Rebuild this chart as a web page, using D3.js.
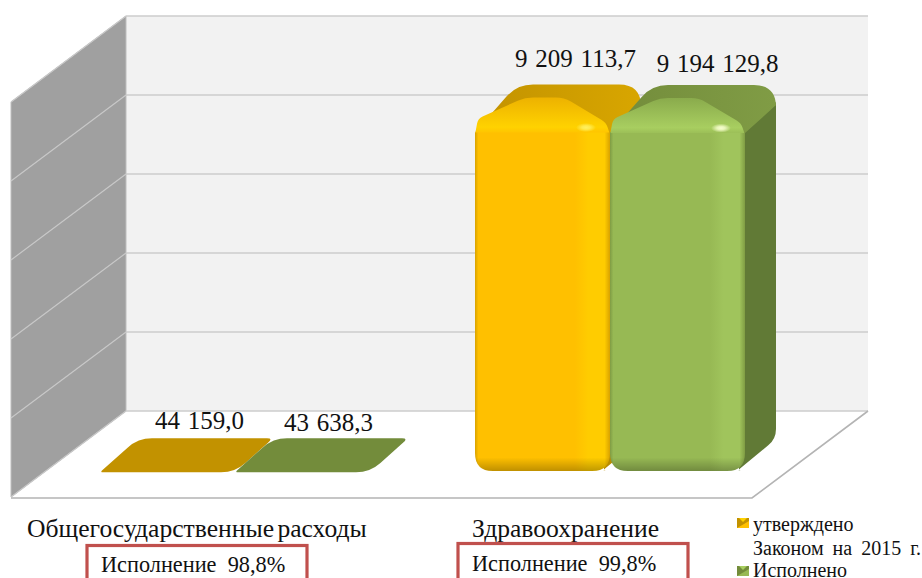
<!DOCTYPE html>
<html>
<head>
<meta charset="utf-8">
<script src="https://cdn.jsdelivr.net/npm/d3@7"></script>
<style>
  html, body { margin: 0; padding: 0; background: #fff; overflow: hidden; }
  text { font-family: "Liberation Serif", serif; fill: #111; }
</style>
</head>
<body>
<svg id="chart" width="922" height="578"></svg>
<script>
// values
let categories = ["Общегосударственные расходы", "Здравоохранение"];
let seriesNames = ["утверждено", "Исполнено"];
let approved = [44159.0, 9209113.7];
let executed = [43638.3, 9194129.8];
let approvedLabels = ["44 159,0", "9 209 113,7"];
let executedLabels = ["43 638,3", "9 194 129,8"];
let executionNotes = ["Исполнение  98,8%", "Исполнение  99,8%"];
let gridTicks = [0, 2000000, 4000000, 6000000, 8000000, 10000000];

let svg = d3.select("#chart");
let defs = svg.append("defs");

// box of the 3d chart
let wallLeft = 126, wallRight = 868, wallTop = 16, wallBottom = 411;
let frontDx = -115, frontDy = 86;

// bars: same value range, measured from the front of the bar
let wallY = d3.scaleLinear().domain([0, 10000000]).range([wallBottom, wallTop]);
let barY = d3.scaleLinear().domain([0, 10000000]).range([474, 88]);
let catX = d3.scaleBand().domain(categories).range([100, 850]);
let seriesX = d3.scaleBand().domain(seriesNames).range([0, 270]);
let depthX = 38, depthY = 34;

let palette = {
    "утверждено": {body: "#FFC000", light: "#FFCC00", edge: "#D8A200", top: "#C29200", topLight: "#D8A600", bevelA: "#EDB200", bevelB: "#FFD200", side: "#B88C00", spot: "#FFF060"},
    "Исполнено": {body: "#97B954", light: "#A0C45C", edge: "#7F9C44", top: "#738C3B", topLight: "#809C45", bevelA: "#8AAB4C", bevelB: "#A8CE60", side: "#617A36", spot: "#F8FFD0"}
};

function makeGradients(name, c, i) {
    let h = defs.append("linearGradient").attr("id", "body" + i);
    [[0, c.edge], [0.025, c.body], [0.74, c.body], [0.84, c.light], [0.96, c.light], [1, c.edge]].forEach(function(s) {
        h.append("stop").attr("offset", s[0]).attr("stop-color", s[1]);
    });
    let t = defs.append("linearGradient").attr("id", "top" + i);
    t.append("stop").attr("offset", 0).attr("stop-color", c.top);
    t.append("stop").attr("offset", 1).attr("stop-color", c.topLight);
    let b = defs.append("linearGradient").attr("id", "bevel" + i).attr("x2", 0).attr("y2", 1);
    b.append("stop").attr("offset", 0).attr("stop-color", c.bevelA);
    b.append("stop").attr("offset", 0.8).attr("stop-color", c.bevelB);
    b.append("stop").attr("offset", 1).attr("stop-color", c.body);
    let r = defs.append("radialGradient").attr("id", "spot" + i);
    r.append("stop").attr("offset", 0).attr("stop-color", c.spot);
    r.append("stop").attr("offset", 0.4).attr("stop-color", c.spot).attr("stop-opacity", 0.8);
    r.append("stop").attr("offset", 1).attr("stop-color", c.spot).attr("stop-opacity", 0);
}
seriesNames.forEach(function(n, i) { makeGradients(n, palette[n], i); });

let shade = defs.append("linearGradient").attr("id", "bottomShade").attr("x2", 0).attr("y2", 1);
shade.append("stop").attr("offset", 0.96).attr("stop-color", "#000").attr("stop-opacity", 0);
shade.append("stop").attr("offset", 1).attr("stop-color", "#000").attr("stop-opacity", 0.25);

// walls and floor
svg.append("polygon")
    .attr("points", [[wallLeft, wallTop], [wallRight, wallTop], [wallRight, wallBottom], [wallLeft, wallBottom]].join(" "))
    .attr("fill", "#F2F2F2");
svg.append("polygon")
    .attr("points", [[wallLeft, wallTop], [wallLeft, wallBottom], [wallLeft + frontDx, wallBottom + frontDy], [wallLeft + frontDx, wallTop + frontDy]].join(" "))
    .attr("fill", "#A0A0A0")
    .attr("stroke", "#BEBEBE")
    .attr("stroke-width", 1);

svg.selectAll(".grid-back").data(gridTicks).enter().append("line")
    .attr("class", "grid-back")
    .attr("x1", wallLeft).attr("x2", wallRight)
    .attr("y1", d => wallY(d)).attr("y2", d => wallY(d))
    .attr("stroke", "#CDCDCD").attr("stroke-width", 1.6);
svg.selectAll(".grid-side").data(gridTicks).enter().append("line")
    .attr("class", "grid-side")
    .attr("x1", wallLeft).attr("x2", wallLeft + frontDx)
    .attr("y1", d => wallY(d)).attr("y2", d => wallY(d) + frontDy)
    .attr("stroke", "#C8C8C8").attr("stroke-width", 1.2);

// front and right edge of the floor
svg.append("path")
    .attr("d", d3.line()([[wallLeft + frontDx, wallBottom + frontDy + 1], [752, wallBottom + frontDy + 1], [wallRight, wallBottom]]))
    .attr("fill", "none").attr("stroke", "#B4B4B4").attr("stroke-width", 1.6);

// polygon with rounded corners, r per corner
function roundPoly(points, radii) {
    let p = d3.path();
    let n = points.length;
    points.forEach(function(pt, i) {
        let prev = points[(i + n - 1) % n], next = points[(i + 1) % n];
        let r = radii[i];
        let a = Math.hypot(prev[0] - pt[0], prev[1] - pt[1]);
        let b = Math.hypot(next[0] - pt[0], next[1] - pt[1]);
        let sx = pt[0] + (prev[0] - pt[0]) * r / a, sy = pt[1] + (prev[1] - pt[1]) * r / a;
        let ex = pt[0] + (next[0] - pt[0]) * r / b, ey = pt[1] + (next[1] - pt[1]) * r / b;
        if (i == 0) p.moveTo(sx, sy); else p.lineTo(sx, sy);
        p.quadraticCurveTo(pt[0], pt[1], ex, ey);
    });
    p.closePath();
    return p.toString();
}

let rows = [];
categories.forEach(function(cat, c) {
    rows.push({cat: cat, series: seriesNames[0], s: 0, value: approved[c], label: approvedLabels[c]});
    rows.push({cat: cat, series: seriesNames[1], s: 1, value: executed[c], label: executedLabels[c]});
});

function drawFlat(g, d, x0, x1, y, c) {
    g.append("path")
        .attr("d", roundPoly([[x0, y], [x1, y], [x1 + depthX, y - depthY], [x0 + depthX, y - depthY]], [3, 14, 6, 14]))
        .attr("fill", c.top);
}

function drawTall(g, d, x0, x1, y, c) {
    let yb = barY(0) - 3;
    let right = x1 + depthX - 7;
    // side
    g.append("path")
        .attr("d", roundPoly([[x1 - 6, y + 10], [right, y - depthY + 14], [right, yb - 32], [x1 - 8, yb], [x1 - 6, yb]], [0, 6, 10, 4, 0]))
        .attr("fill", c.side);
    // top, back part
    g.append("path")
        .attr("d", roundPoly([[x0, y + 14], [x0 + depthX + 4, y - depthY], [right, y - depthY], [right, y - depthY + 20], [x1, y + 14]], [0, 16, 22, 0, 0]))
        .attr("fill", "url(#top" + d.s + ")");
    // top, bevel on the front
    g.append("path")
        .attr("d", roundPoly([[x0, y + 16], [x0 + 3, y], [x0 + 50, y - 21], [x1 - 46, y - 21], [x1 - 4, y + 4], [x1, y + 16]], [0, 5, 8, 8, 5, 0]))
        .attr("fill", "url(#bevel" + d.s + ")");
    // front
    let front = roundPoly([[x0, y + 14], [x1, y + 14], [x1, yb], [x0, yb]], [0, 0, 18, 18]);
    g.append("path").attr("d", front).attr("fill", "url(#body" + d.s + ")");
    g.append("path").attr("d", front).attr("fill", "url(#bottomShade)");
    g.append("ellipse")
        .attr("cx", x1 - 24).attr("cy", y + 9)
        .attr("rx", 10).attr("ry", 4.5)
        .attr("fill", "url(#spot" + d.s + ")");
}

let bars = svg.selectAll(".bar").data(rows).enter().append("g").attr("class", "bar");
bars.each(function(d) {
    let g = d3.select(this);
    let x0 = catX(d.cat) + seriesX(d.series);
    let x1 = x0 + seriesX.bandwidth();
    let y = barY(d.value);
    if (barY(0) - y < 20) drawFlat(g, d, x0, x1, y, palette[d.series]);
    else drawTall(g, d, x0, x1, y, palette[d.series]);
});

// value labels, shifted a bit like in the original
let labelShift = [[32, -43], [26, -41], [33, -52], [40, -47]];
svg.selectAll(".value").data(rows).enter().append("text")
    .attr("class", "value")
    .attr("x", (d, i) => catX(d.cat) + seriesX(d.series) + seriesX.bandwidth() / 2 + labelShift[i][0])
    .attr("y", (d, i) => barY(d.value) + labelShift[i][1])
    .attr("text-anchor", "middle")
    .attr("font-size", 25)
    .attr("word-spacing", 1.5)
    .text(d => d.label);

// category names and boxes
let catLabelX = [27, 472];
svg.selectAll(".cat").data(categories).enter().append("text")
    .attr("class", "cat")
    .attr("x", (d, i) => catLabelX[i]).attr("y", 537)
    .attr("font-size", 25.6)
    .attr("word-spacing", -3)
    .text(d => d);

let boxes = [{x: 87, w: 220, y: 545.5, tx: 101, ty: 572}, {x: 458, w: 230, y: 543.5, tx: 472, ty: 571}];
svg.selectAll(".note-box").data(boxes).enter().append("rect")
    .attr("class", "note-box")
    .attr("x", d => d.x).attr("y", d => d.y)
    .attr("width", d => d.w).attr("height", 60)
    .attr("fill", "none").attr("stroke", "#C0504D").attr("stroke-width", 3.2);
svg.selectAll(".note").data(executionNotes).enter().append("text")
    .attr("class", "note")
    .attr("x", (d, i) => boxes[i].tx).attr("y", (d, i) => boxes[i].ty)
    .attr("font-size", 22.3)
    .style("white-space", "pre")
    .text(d => d);

// legend
let legendY = [518, 566];
let legend = svg.selectAll(".legend").data(seriesNames).enter().append("g")
    .attr("class", "legend")
    .attr("transform", (d, i) => "translate(737," + legendY[i] + ")");
legend.append("rect").attr("width", 12).attr("height", 10).attr("fill", d => palette[d].top);
legend.append("polygon").attr("points", "2,0 10,0 6,4").attr("fill", d => palette[d].bevelB);
legend.append("polygon").attr("points", "0,10 12,10 12,3 7,6").attr("fill", d => palette[d].body);

let legendLines = [["утверждено", 531], ["Законом на 2015 г.", 555], ["Исполнено", 577]];
svg.selectAll(".legend-text").data(legendLines).enter().append("text")
    .attr("class", "legend-text")
    .attr("x", 753).attr("y", d => d[1])
    .attr("font-size", 20)
    .attr("word-spacing", 4)
    .text(d => d[0]);
</script>
</body>
</html>
